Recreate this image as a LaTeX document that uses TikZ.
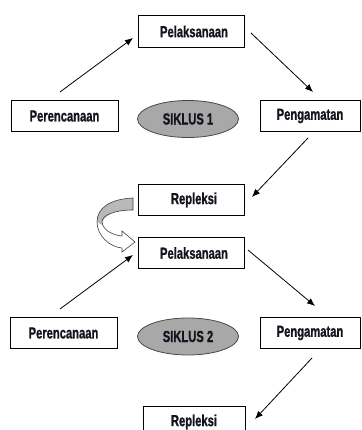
\documentclass[tikz,border=0pt]{standalone}
\usepackage{fontspec}
\newfontfamily\agency{Liberation Sans}[FakeStretch=0.70, BoldFeatures={FakeBold=1}]
\usetikzlibrary{shapes.geometric,arrows.meta}
\definecolor{ellfill}{RGB}{168,168,168}
\definecolor{ellline}{RGB}{70,70,70}
\definecolor{txt}{RGB}{20,20,30}
\tikzset{
  lbl/.style={text=txt, font=\agency\bfseries\fontsize{16}{17}\selectfont},
  stage/.style={lbl, draw=black, line width=0.8pt, fill=white, inner sep=0pt,
    minimum height=31.5pt},
  cyc/.style={lbl, ellipse, draw=ellline, line width=0.8pt, fill=ellfill, inner sep=0pt,
    minimum width=101pt, minimum height=37pt},
  arr/.style={line width=0.8pt, -{Latex[length=8pt,width=6.5pt]}},
  bendarrow/.style={draw=black!75, line width=0.6pt}
}
\begin{document}
\begin{tikzpicture}[x=1pt,y=-1pt]
\useasboundingbox (0,0) rectangle (361,430);
\clip (0,0) rectangle (361,430);
% cycle 1
\node[stage, minimum width=106pt] (pel1) at (191,31.5) {\hspace{6pt}Pelaksanaan};
\node[stage, minimum width=107pt] (per1) at (64.5,116) {Perencanaan};
\node[cyc] (sik1) at (188,119) {SIKLUS 1};
\node[stage, minimum width=100pt] (pen1) at (310,116) {Pengamatan};
\node[stage, minimum width=106pt] (rep1) at (191,200) {\hspace{6pt}Repleksi};
% cycle 2
\node[stage, minimum width=106pt] (pel2) at (191,253) {\hspace{6pt}Pelaksanaan};
\node[stage, minimum width=107pt] (per2) at (63.5,333) {Perencanaan};
\node[cyc] (sik2) at (188,336.5) {SIKLUS 2};
\node[stage, minimum width=100pt] (pen2) at (310,333) {Pengamatan};
\node[stage, minimum width=102pt] (rep2) at (194,422) {Repleksi};
% connector ends
\coordinate (a1s) at (60,92);   \coordinate (a1e) at (133,38);
\coordinate (a2s) at (251,33);  \coordinate (a2e) at (313,92);
\coordinate (a3s) at (308,138); \coordinate (a3e) at (252,197);
\coordinate (a4s) at (60,309);  \coordinate (a4e) at (133,255);
\coordinate (a5s) at (248,250); \coordinate (a5e) at (315,306);
\coordinate (a6s) at (312,358); \coordinate (a6e) at (255,419);
\draw[arr] (a1s) -- (a1e);
\draw[arr] (a2s) -- (a2e);
\draw[arr] (a3s) -- (a3e);
\draw[arr] (a4s) -- (a4e);
\draw[arr] (a5s) -- (a5e);
\draw[arr] (a6s) -- (a6e);
% curved block arrow from rep1 to pel2
\fill[white] (133,198) .. controls (110,199) and (97,208) .. (97,222)
  .. controls (97,236) and (110,247) .. (122,248) -- (122,252) -- (135,242)
  -- (122,231) -- (122,236) .. controls (112,235) and (103,230) .. (102,222)
  .. controls (102,215) and (115,210) .. (133,210) -- cycle;
\fill[ellfill!80] (133,198) .. controls (110,199) and (97,208) .. (97,222)
  -- (102,225) .. controls (102,215) and (115,210) .. (133,210) -- cycle;
\draw[bendarrow] (133,198) .. controls (110,199) and (97,208) .. (97,222)
  .. controls (97,236) and (110,247) .. (122,248) -- (122,252) -- (135,242)
  -- (122,231) -- (122,236) .. controls (112,235) and (103,230) .. (102,222)
  .. controls (102,215) and (115,210) .. (133,210) -- cycle;
\end{tikzpicture}
\end{document}
